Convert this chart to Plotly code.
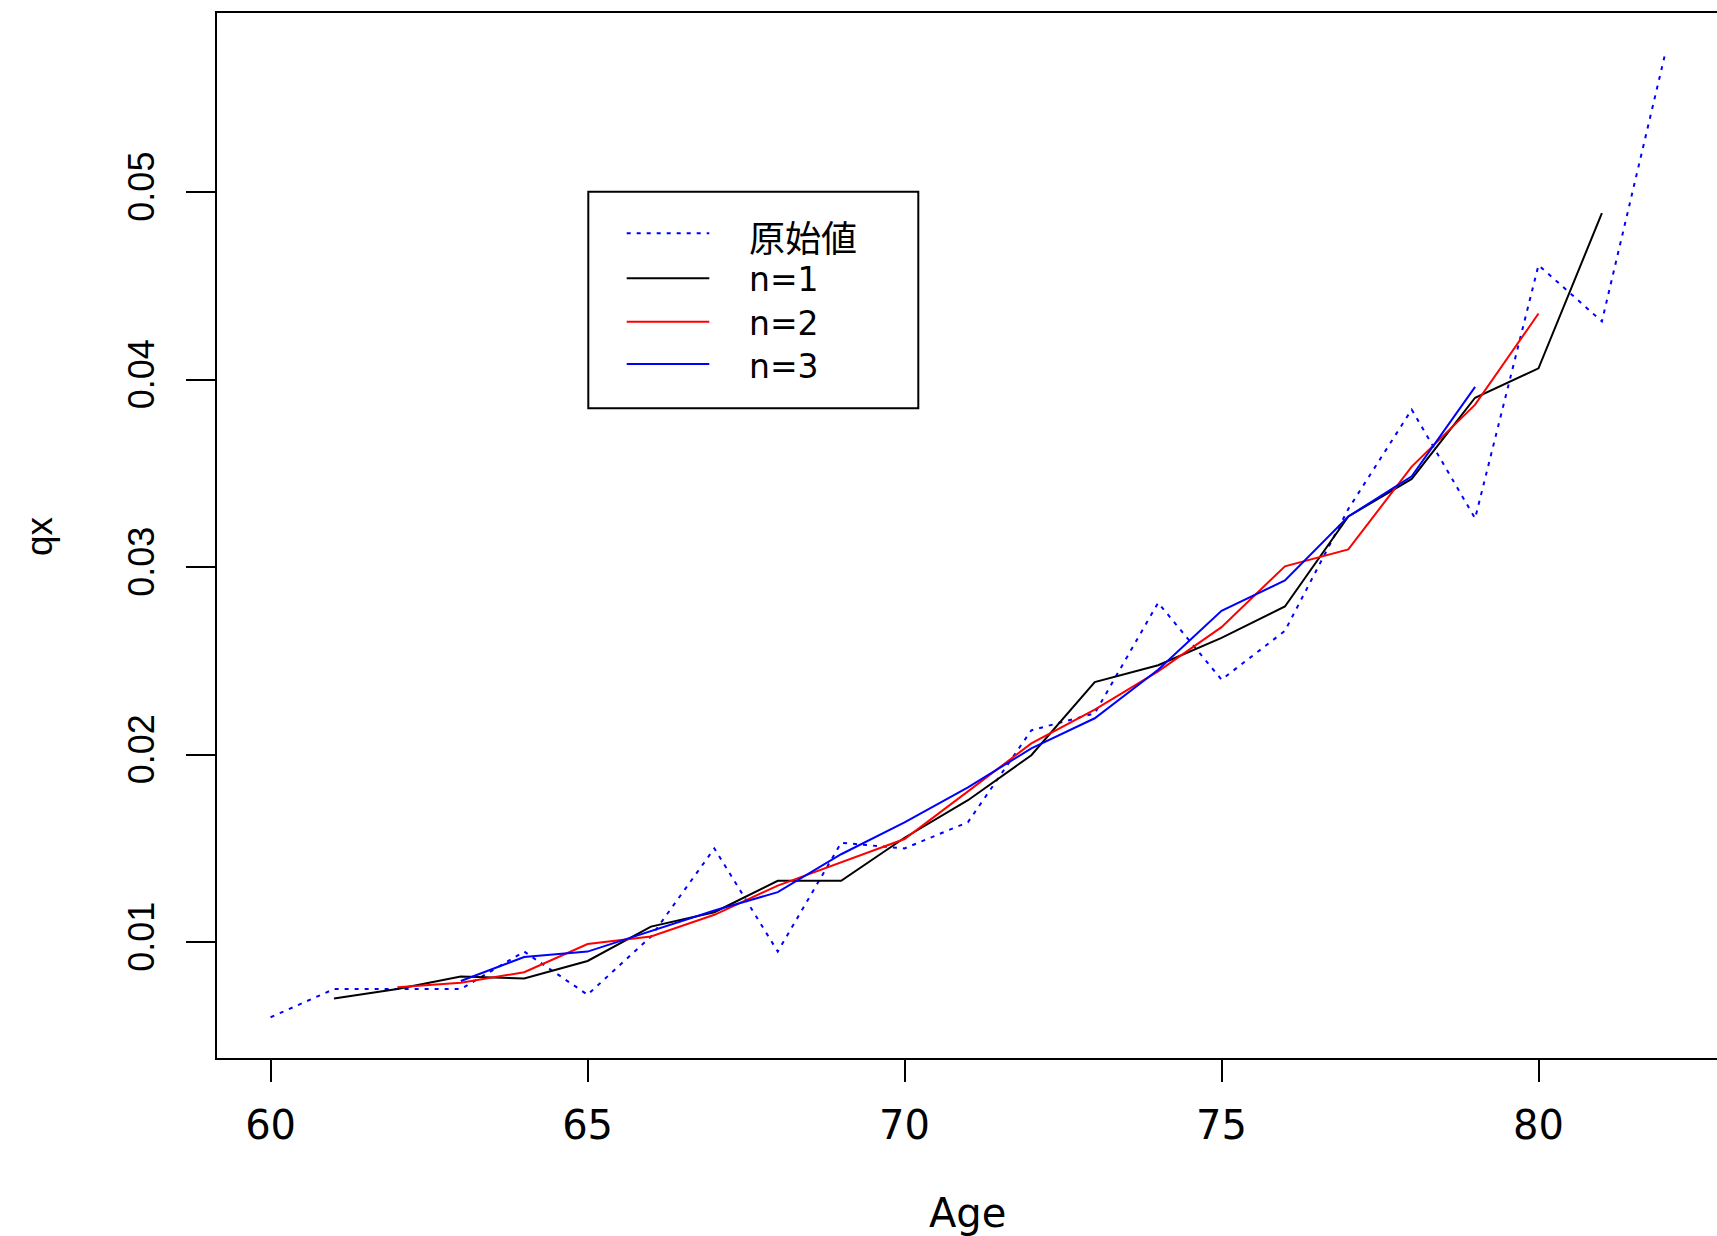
import plotly.graph_objects as go

# Raw mortality rates by age, and the smoothed versions (n = 1, 2, 3)
ages_raw = list(range(60, 83))
qx_raw = [0.0060, 0.0075, 0.0075, 0.0075, 0.0095, 0.0072, 0.0103, 0.0150, 0.0095, 0.0153,
          0.0150, 0.0164, 0.0213, 0.0222, 0.0281, 0.0240, 0.0266, 0.0331, 0.0384, 0.0326,
          0.0461, 0.0431, 0.0574]

ages_n1 = list(range(61, 82))
qx_n1 = [0.00700, 0.00750, 0.00817, 0.00807, 0.00900, 0.01083, 0.01160, 0.01327, 0.01327, 0.01557,
         0.01757, 0.01997, 0.02387, 0.02477, 0.02623, 0.02790, 0.03270, 0.03470, 0.03903, 0.04060,
         0.04887]

ages_n2 = list(range(62, 81))
qx_n2 = [0.00760, 0.00784, 0.00840, 0.00990, 0.01030, 0.01146, 0.01302, 0.01424, 0.01550, 0.01804,
         0.02060, 0.02240, 0.02444, 0.02680, 0.03004, 0.03094, 0.03536, 0.03866, 0.04352]

ages_n3 = list(range(63, 80))
qx_n3 = [0.00793, 0.00921, 0.00950, 0.01061, 0.01169, 0.01267, 0.01469, 0.01639, 0.01826, 0.02033,
         0.02194, 0.02453, 0.02767, 0.02929, 0.03270, 0.03484, 0.03961]

series_names = ["原始値", "n=1", "n=2", "n=3"]
x_ticks = [60, 65, 70, 75, 80]
y_ticks = [0.01, 0.02, 0.03, 0.04, 0.05]

# Canvas and plot-area geometry (pixels)
WIDTH, HEIGHT = 1717, 1236
L, T, R, B = 217, 13, 1717, 1058
PW, PH = R - L, B - T

DOT = "4px,6px"
series_styles = [
    dict(color="#0000FF", dash=DOT),
    dict(color="#000000", dash="solid"),
    dict(color="#FF0000", dash="solid"),
    dict(color="#0000FF", dash="solid"),
]

fig = go.Figure()
for name, xs, ys, st in zip(series_names,
                            [ages_raw, ages_n1, ages_n2, ages_n3],
                            [qx_raw, qx_n1, qx_n2, qx_n3],
                            series_styles):
    fig.add_trace(go.Scatter(x=xs, y=ys, mode="lines", name=name, showlegend=False,
                             line=dict(color=st["color"], dash=st["dash"], width=2)))


def fx(p):
    return (p - L) / PW


def fy(p):
    return (B - p) / PH


shapes = []
annotations = []

# Legend box
shapes.append(dict(type="rect", xref="paper", yref="paper",
                   x0=fx(588.3), x1=fx(918.3), y0=fy(408.3), y1=fy(191.7),
                   line=dict(color="black", width=2), fillcolor="rgba(0,0,0,0)"))
legend_line_y = [233.3, 278.3, 321.7, 364.0]
legend_text_y = [236.0, 280.0, 323.0, 366.0]
for name, st, ly, ty in zip(series_names, series_styles, legend_line_y, legend_text_y):
    shapes.append(dict(type="line", xref="paper", yref="paper",
                       x0=fx(626.7), x1=fx(709.3), y0=fy(ly), y1=fy(ly),
                       line=dict(color=st["color"], dash=st["dash"], width=2)))
    is_cjk = name == "原始値"
    annotations.append(dict(
        text=name, xref="paper", yref="paper", x=fx(748.0), y=fy(ty),
        xanchor="left", yanchor="middle", showarrow=False, borderpad=0,
        font=dict(family="Noto Sans CJK JP" if is_cjk else "DejaVu Sans",
                  size=36 if is_cjk else 33, color="black")))

# Axis titles
annotations.append(dict(text="Age", xref="paper", yref="paper", x=fx(967), y=fy(1213),
                        xanchor="center", yanchor="middle", showarrow=False,
                        font=dict(family="DejaVu Sans", size=40, color="black")))
annotations.append(dict(text="qx", xref="paper", yref="paper", x=fx(39), y=fy(536),
                        xanchor="center", yanchor="middle", showarrow=False, textangle=-90,
                        font=dict(family="Liberation Sans", size=37, color="black")))

px_per_year = (1538.5 - 270.6) / 20.0
x_min = 60 - (270.6 - L) / px_per_year
x_max = x_min + PW / px_per_year

px_per_unit = (942.2 - 192.0) / 0.04
y_min = 0.01 - (B - 942.2) / px_per_unit
y_max = 0.05 + (192.0 - T) / px_per_unit

fig.update_layout(
    width=WIDTH, height=HEIGHT,
    margin=dict(l=L, r=WIDTH - R, t=T, b=HEIGHT - B, pad=0),
    paper_bgcolor="white", plot_bgcolor="white",
    showlegend=False,
    shapes=shapes, annotations=annotations,
    xaxis=dict(range=[x_min, x_max], tickvals=x_ticks, ticktext=[str(v) for v in x_ticks],
               showgrid=False, zeroline=False, showline=True, linecolor="black", linewidth=2,
               mirror=True, ticks="outside", ticklen=22, tickwidth=2, tickcolor="black",
               ticklabelstandoff=9,
               tickfont=dict(family="DejaVu Sans", size=40, color="black")),
    yaxis=dict(range=[y_min, y_max], tickvals=y_ticks, ticktext=[f"{v:.2f}" for v in y_ticks],
               showgrid=False, zeroline=False, showline=True, linecolor="black", linewidth=2,
               mirror=False, ticks="outside", ticklen=29, tickwidth=2, tickcolor="black",
               tickangle=-90, ticklabelstandoff=18,
               tickfont=dict(family="Liberation Sans", size=36, color="black")),
)

fig.write_html("out.html")
